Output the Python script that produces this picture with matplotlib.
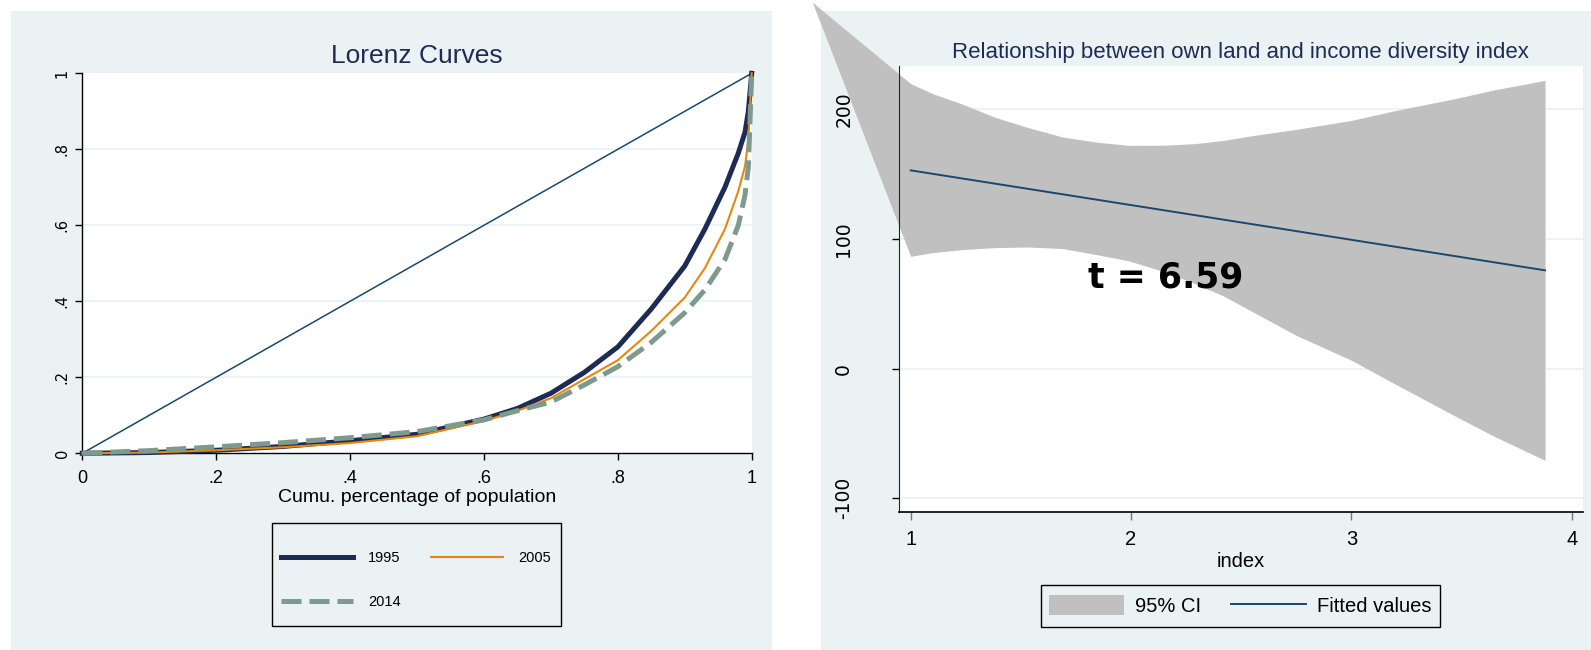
import matplotlib
matplotlib.use("Agg")
import matplotlib.pyplot as plt
from matplotlib import font_manager
from matplotlib.lines import Line2D
from matplotlib.patches import Patch, Rectangle

# --- Lorenz curves (left panel) ---
pop_share = [0, .1, .2, .3, .4, .5, .6, .65, .7, .75, .8, .85, .9, .93, .96, .98, .99, .995, 1]
lorenz_1995 = [0, .002, .008, .018, .033, .05, .09, .118, .158, .213, .28, .38, .493, .59, .70, .79, .845, .90, 1]
lorenz_2005 = [0, .002, .008, .016, .027, .045, .085, .112, .145, .195, .245, .322, .41, .487, .59, .69, .755, .825, 1]
lorenz_2014 = [0, .007, .017, .028, .041, .057, .088, .112, .135, .18, .228, .292, .37, .43, .51, .60, .68, .754, 1]
equality = [0, 1]
lorenz_ticks = [0, .2, .4, .6, .8, 1]
lorenz_ticklabels = ['0', '.2', '.4', '.6', '.8', '1']

# --- fitted line + 95% CI (right panel) ---
ci_x = [0.5535, 1.0, 1.1, 1.23, 1.38, 1.53, 1.69, 1.85, 1.99, 2.15, 2.29, 2.42, 2.56, 2.75,
        3.0, 3.2, 3.47, 3.65, 3.879]
ci_upper = [282.6, 219.8, 212.0, 204.3, 194.0, 186.0, 178.6, 174.5, 172.2, 172.3, 173.5, 176.0,
            179.9, 184.5, 191.4, 199.0, 208.2, 215.0, 222.3]
ci_lower = [282.6, 86.6, 89.5, 91.7, 93.3, 93.8, 92.6, 87.7, 83.1, 74.8, 65.6, 56.0, 43.1, 25.6,
            6.5, -12.0, -36.5, -52.4, -70.7]
fit_x = [1.0, 3.879]
fit_y = [152.9, 75.8]
index_ticks = [1, 2, 3, 4]
value_ticks = [-100, 0, 100, 200]
t_label = 't = 6.59'

BG = '#EAF2F3'
TITLE = '#1E2B55'
W, H = 1591, 650

installed = {f.name for f in font_manager.fontManager.ttflist}
has_narrow = 'Liberation Sans Narrow' in installed
narrow = ['Liberation Sans Narrow', 'DejaVu Sans'] if has_narrow else ['Liberation Sans', 'DejaVu Sans']
plt.rcParams['font.family'] = ['Liberation Sans', 'DejaVu Sans']

fig = plt.figure(figsize=(W / 100, H / 100), dpi=100)
fig.patch.set_facecolor('white')

# graph region backgrounds
fig.add_artist(Rectangle((11 / W, 0), (771.7 - 11) / W, (H - 11) / H, transform=fig.transFigure,
                         facecolor=BG, edgecolor='none', zorder=-5))
fig.add_artist(Rectangle((821 / W, 0), (W - 821) / W, (H - 11) / H, transform=fig.transFigure,
                         facecolor=BG, edgecolor='none', zorder=-5))

# ---------------- left panel ----------------
ax1 = fig.add_axes([82.3 / W, 1 - 453.3 / H, 669.4 / W, 380 / H])
ax1.set_facecolor('white')
ax1.set_xlim(0, 1)
ax1.set_ylim(0, 1)
for y in lorenz_ticks[1:-1]:
    ax1.axhline(y, color=BG, lw=1.3, zorder=0)
ax1.plot(equality, equality, color='#1A476F', lw=1.1, clip_on=False, zorder=2)
ax1.plot(pop_share, lorenz_1995, color='#1E2B55', lw=3.6, clip_on=False, zorder=3)
ax1.plot(pop_share, lorenz_2005, color='#E8870E', lw=1.5, clip_on=False, zorder=4)
ax1.plot(pop_share, lorenz_2014, color='#7D9A8C', lw=3.6, dashes=(4, 1.6), clip_on=False, zorder=5)

for s in ['top', 'right']:
    ax1.spines[s].set_visible(False)
for s in ['left', 'bottom']:
    ax1.spines[s].set_color('black')
    ax1.spines[s].set_linewidth(1.0)
ax1.set_xticks(lorenz_ticks)
ax1.set_xticklabels(lorenz_ticklabels, fontsize=13)
ax1.set_yticks(lorenz_ticks)
ax1.set_yticklabels(lorenz_ticklabels, fontsize=10.5, rotation=90, va='center',
                    family=['DejaVu Sans'])
ax1.tick_params(axis='x', length=5, width=1, pad=7)
ax1.tick_params(axis='y', length=5, width=1, pad=4)
ax1.set_title('Lorenz Curves', color=TITLE, fontsize=23 if has_narrow else 19,
              family=narrow, pad=7.6)
ax1.set_xlabel('Cumu. percentage of population', fontsize=14, va='top')
ax1.xaxis.set_label_coords(0.5, (453.3 - 489) / 380)

h1995 = Line2D([], [], color='#1E2B55', lw=3.6)
h2005 = Line2D([], [], color='#E8870E', lw=1.5)
h2014 = Line2D([], [], color='#7D9A8C', lw=3.6, dashes=(4, 1.6))
leg_fs = 12.5 if has_narrow else 10.5
leg_px = leg_fs * 100 / 72
fig.legend([h1995, h2014, h2005], ['1995', '2014', '2005'], ncol=2, loc='center',
           bbox_to_anchor=(416 / W, 1 - 580 / H), frameon=False,
           prop={'family': narrow, 'size': leg_fs},
           handlelength=72 / leg_px, handletextpad=15 / leg_px,
           columnspacing=31 / leg_px, labelspacing=(44 - leg_px) / leg_px,
           borderpad=0)
fig.add_artist(Rectangle((272 / W, 1 - 626 / H), 289 / W, 103.4 / H, transform=fig.transFigure,
                         fill=False, edgecolor='black', lw=1.0, zorder=5))

# ---------------- right panel ----------------
ax2 = fig.add_axes([899 / W, 1 - 512.3 / H, 683.7 / W, 446.6 / H])
ax2.set_facecolor('white')
ax2.set_xlim(0.947, 4.05)
ax2.set_ylim(-110.8, 233.6)
for y in value_ticks:
    ax2.axhline(y, color=BG, lw=1.3, zorder=0)
band = ax2.fill_between(ci_x, ci_lower, ci_upper, color='#C0C0C0', lw=0, zorder=2)
band.set_clip_on(False)
ax2.plot(fit_x, fit_y, color='#1A476F', lw=1.4, zorder=3)
ax2.text(1.805, 62.7, t_label, fontsize=25, fontweight='bold', color='black',
         family=['DejaVu Sans'], ha='left', va='baseline', zorder=4)

for s in ['top', 'right']:
    ax2.spines[s].set_visible(False)
ax2.spines['left'].set_color('#222222')
ax2.spines['bottom'].set_color('black')
ax2.spines['bottom'].set_linewidth(1.2)
ax2.set_xticks(index_ticks)
ax2.set_xticklabels([str(v) for v in index_ticks], fontsize=14.5)
ax2.set_yticks(value_ticks)
ax2.set_yticklabels([str(v) for v in value_ticks], fontsize=13.5, rotation=90, va='center',
                    family=['DejaVu Sans'])
ax2.tick_params(axis='x', length=5.5, width=1, pad=7, color='#777777')
ax2.tick_params(axis='y', length=5, width=1, pad=28)
ax2.set_title('Relationship between own land and income diversity index', color=TITLE,
              fontsize=16, pad=5.3)
ax2.set_xlabel('index', fontsize=14.5, va='top')
ax2.xaxis.set_label_coords(0.5, (512.3 - 552) / 446.6)

leg2_fs = 14.5
leg2_px = leg2_fs * 100 / 72
fig.legend([Patch(facecolor='#C0C0C0', edgecolor='none'),
            Line2D([], [], color='#1A476F', lw=1.4)],
           ['95% CI', 'Fitted values'], ncol=2, loc='center',
           bbox_to_anchor=(1240 / W, 1 - 605.8 / H), frameon=False,
           prop={'size': leg2_fs}, handlelength=75 / leg2_px, handleheight=23 / leg2_px,
           handletextpad=11 / leg2_px, columnspacing=30 / leg2_px, borderpad=0)
fig.add_artist(Rectangle((1041 / W, 1 - 626.7 / H), 399 / W, 41.7 / H, transform=fig.transFigure,
                         fill=False, edgecolor='black', lw=1.0, zorder=5))

fig.savefig('out.png', dpi=100, facecolor='white')
